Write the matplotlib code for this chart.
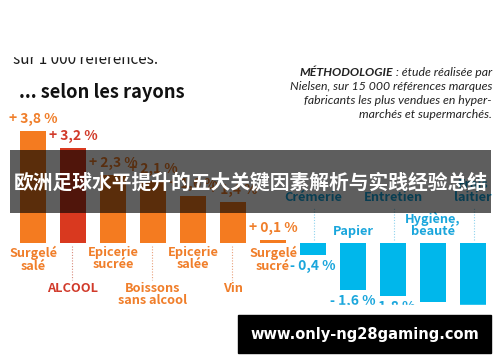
import matplotlib
matplotlib.use("Agg")
import matplotlib.pyplot as plt
from matplotlib.patches import Rectangle, Circle
from matplotlib.transforms import offset_copy

# ---------------- data ----------------
categories = ["Surgelé\nsalé", "ALCOOL", "Epicerie\nsucrée", "Boissons\nsans alcool",
              "Epicerie\nsalée", "Vin", "Surgelé\nsucré", "Crémerie", "Papier",
              "Entretien", "Hygiène,\nbeauté", "Frais\nlaitier"]
values = [3.8, 3.2, 2.3, 2.1, 1.6, 1.4, 0.1, -0.4, -1.6, -1.8, -2.0, -2.6]
value_labels = ["+ 3,8 %", "+ 3,2 %", "+ 2,3 %", "+ 2,1 %", "+ 1,6 %", "+ 1,4 %",
                "+ 0,1 %", "- 0,4 %", "- 1,6 %", "- 1,8 %", "- 2,0 %", "- 2,6 %"]
label_rows = [1, 2, 1, 2, 1, 2, 1, 2, 1, 2, 1, 2]
highlight = "ALCOOL"

title_zh = "欧洲足球水平提升的五大关键因素解析与实践经验总结"
header_top = "sur 1 000 références."
header_main = "... selon les rayons"
method_bold = "MÉTHODOLOGIE"
method_lines = [" : étude réalisée par",
                "Nielsen, sur 15 000 références marques",
                "fabricants les plus vendues en hyper-",
                "marchés et supermarchés."]
watermark = "www.only-ng28gaming.com"

# ---------------- style ----------------
ORANGE = "#F47B20"
RED = "#D9391F"
BLUE = "#00B7EB"
T_ORANGE = "#F07E2A"
T_RED = "#D13A2A"
T_BLUE = "#1AA6DC"
NARROW = ["Noto Sans CJK SC", "DejaVu Sans"]
ITAL = ["Lato", "DejaVu Sans"]
CJK = ["Noto Sans CJK SC", "DejaVu Sans"]

W, H, DPI = 500, 362, 100
BASE_PX, PPP, STEP, X0 = 243, 29.6, 40, 33

fig = plt.figure(figsize=(W / DPI, H / DPI), dpi=DPI)
fig.patch.set_facecolor("white")

ax = fig.add_axes([0, 0, 1, 1])
ax.set_xlim(-X0 / STEP, (W - X0) / STEP)
ax.set_ylim(-(H - BASE_PX) / PPP, BASE_PX / PPP)
ax.axis("off")

xs = list(range(len(values)))
colors = []
for c, v in zip(categories, values):
    if c == highlight:
        colors.append(RED)
    elif v >= 0:
        colors.append(ORANGE)
    else:
        colors.append(BLUE)
ax.bar(xs, values, width=0.65, color=colors, zorder=2)

def off(dy):
    return offset_copy(ax.transData, fig=fig, x=0, y=dy, units="dots")

LAB = dict(fontsize=9.2, fontweight="bold", family=NARROW, linespacing=0.95)
for x, v, lab, c, row in zip(xs, values, value_labels, categories, label_rows):
    if c == highlight:
        tc = T_RED
    elif v >= 0:
        tc = T_ORANGE
    else:
        tc = T_BLUE
    # value label
    dy = 12 if v >= 0 else -11
    ax.text(x, v, lab, transform=off(dy), ha="center", va="center",
            color=tc, fontsize=10, fontweight="bold", family=NARROW)
    # category label
    if v >= 0:
        if row == 1:
            ax.text(x, 0, c, transform=off(-3), ha="center", va="top", color=tc, **LAB)
        else:
            ax.text(x, 0, c, transform=off(-39), ha="center", va="top", color=tc, **LAB)
            ax.plot([x - 0.02, x - 0.02], [-3 / PPP, -37 / PPP], ls=(0, (1, 1.5)),
                    color="#E9A07A" if c != highlight else "#D88A7A", lw=0.8)
    else:
        if row == 1:
            ax.text(x, 0, c, transform=off(5), ha="center", va="bottom", color=tc, **LAB)
        else:
            ax.text(x, 0, c, transform=off(39), ha="center", va="bottom", color=tc, **LAB)
            ax.plot([x + 0.02, x + 0.02], [3 / PPP, 36 / PPP], ls=(0, (1, 1.5)),
                    color="#8FD3EE", lw=0.8)

# red mark under ALCOOL
ia = categories.index(highlight)
ax.add_patch(Circle((ia - 0.05, -70 / PPP), 9 / STEP, color=RED, zorder=2))

# ---------------- overlay layer (pixel coordinates) ----------------
ov = fig.add_axes([0, 0, 1, 1], zorder=5)
ov.set_xlim(0, W)
ov.set_ylim(H, 0)
ov.axis("off")
ov.patch.set_alpha(0)

ov.text(13, 63.5, header_top, ha="left", va="baseline", fontsize=11,
        color="#1a1a1a", family=NARROW, zorder=1)
ov.text(19, 98, header_main, ha="left", va="baseline", fontsize=13.2,
        fontweight="bold", color="#111111", family=NARROW, zorder=1)

my = [72, 86, 100, 114]
MFS = 8.8
t1 = ov.text(492, my[0], method_lines[0], ha="right", va="center", fontsize=MFS,
             style="italic", color="#222222", family=ITAL, zorder=1)
for y, line in zip(my[1:], method_lines[1:]):
    ov.text(492, y, line, ha="right", va="center", fontsize=MFS, style="italic",
            color="#222222", family=ITAL, zorder=1)
fig.canvas.draw()
bb = t1.get_window_extent()
ov.text(bb.x0, my[0], method_bold, ha="right", va="center", fontsize=MFS,
        style="italic", fontweight="bold", color="#222222", family=ITAL, zorder=1)

# white masks (cropped source image)
ov.add_patch(Rectangle((0, 0), W, 56, color="white", zorder=2))
ov.add_patch(Rectangle((0, 305), W, H - 305, color="white", zorder=2))

# dark translucent band with Chinese title
ov.add_patch(Rectangle((10, 150), 481, 63, color="black", alpha=0.63, lw=0, zorder=3))
ov.text(251, 183, title_zh, ha="center", va="center", color="white", fontsize=14.2,
        fontweight="bold", family=CJK, zorder=4)

# bottom watermark banner
ov.add_patch(Rectangle((238, 315), 253, 38, color="black", zorder=5))
ov.text(364.5, 334, watermark, ha="center", va="center", color="white",
        fontsize=10.5, fontweight="bold", family=["DejaVu Sans"], zorder=6)

fig.savefig("out.png", dpi=DPI, facecolor="white")
